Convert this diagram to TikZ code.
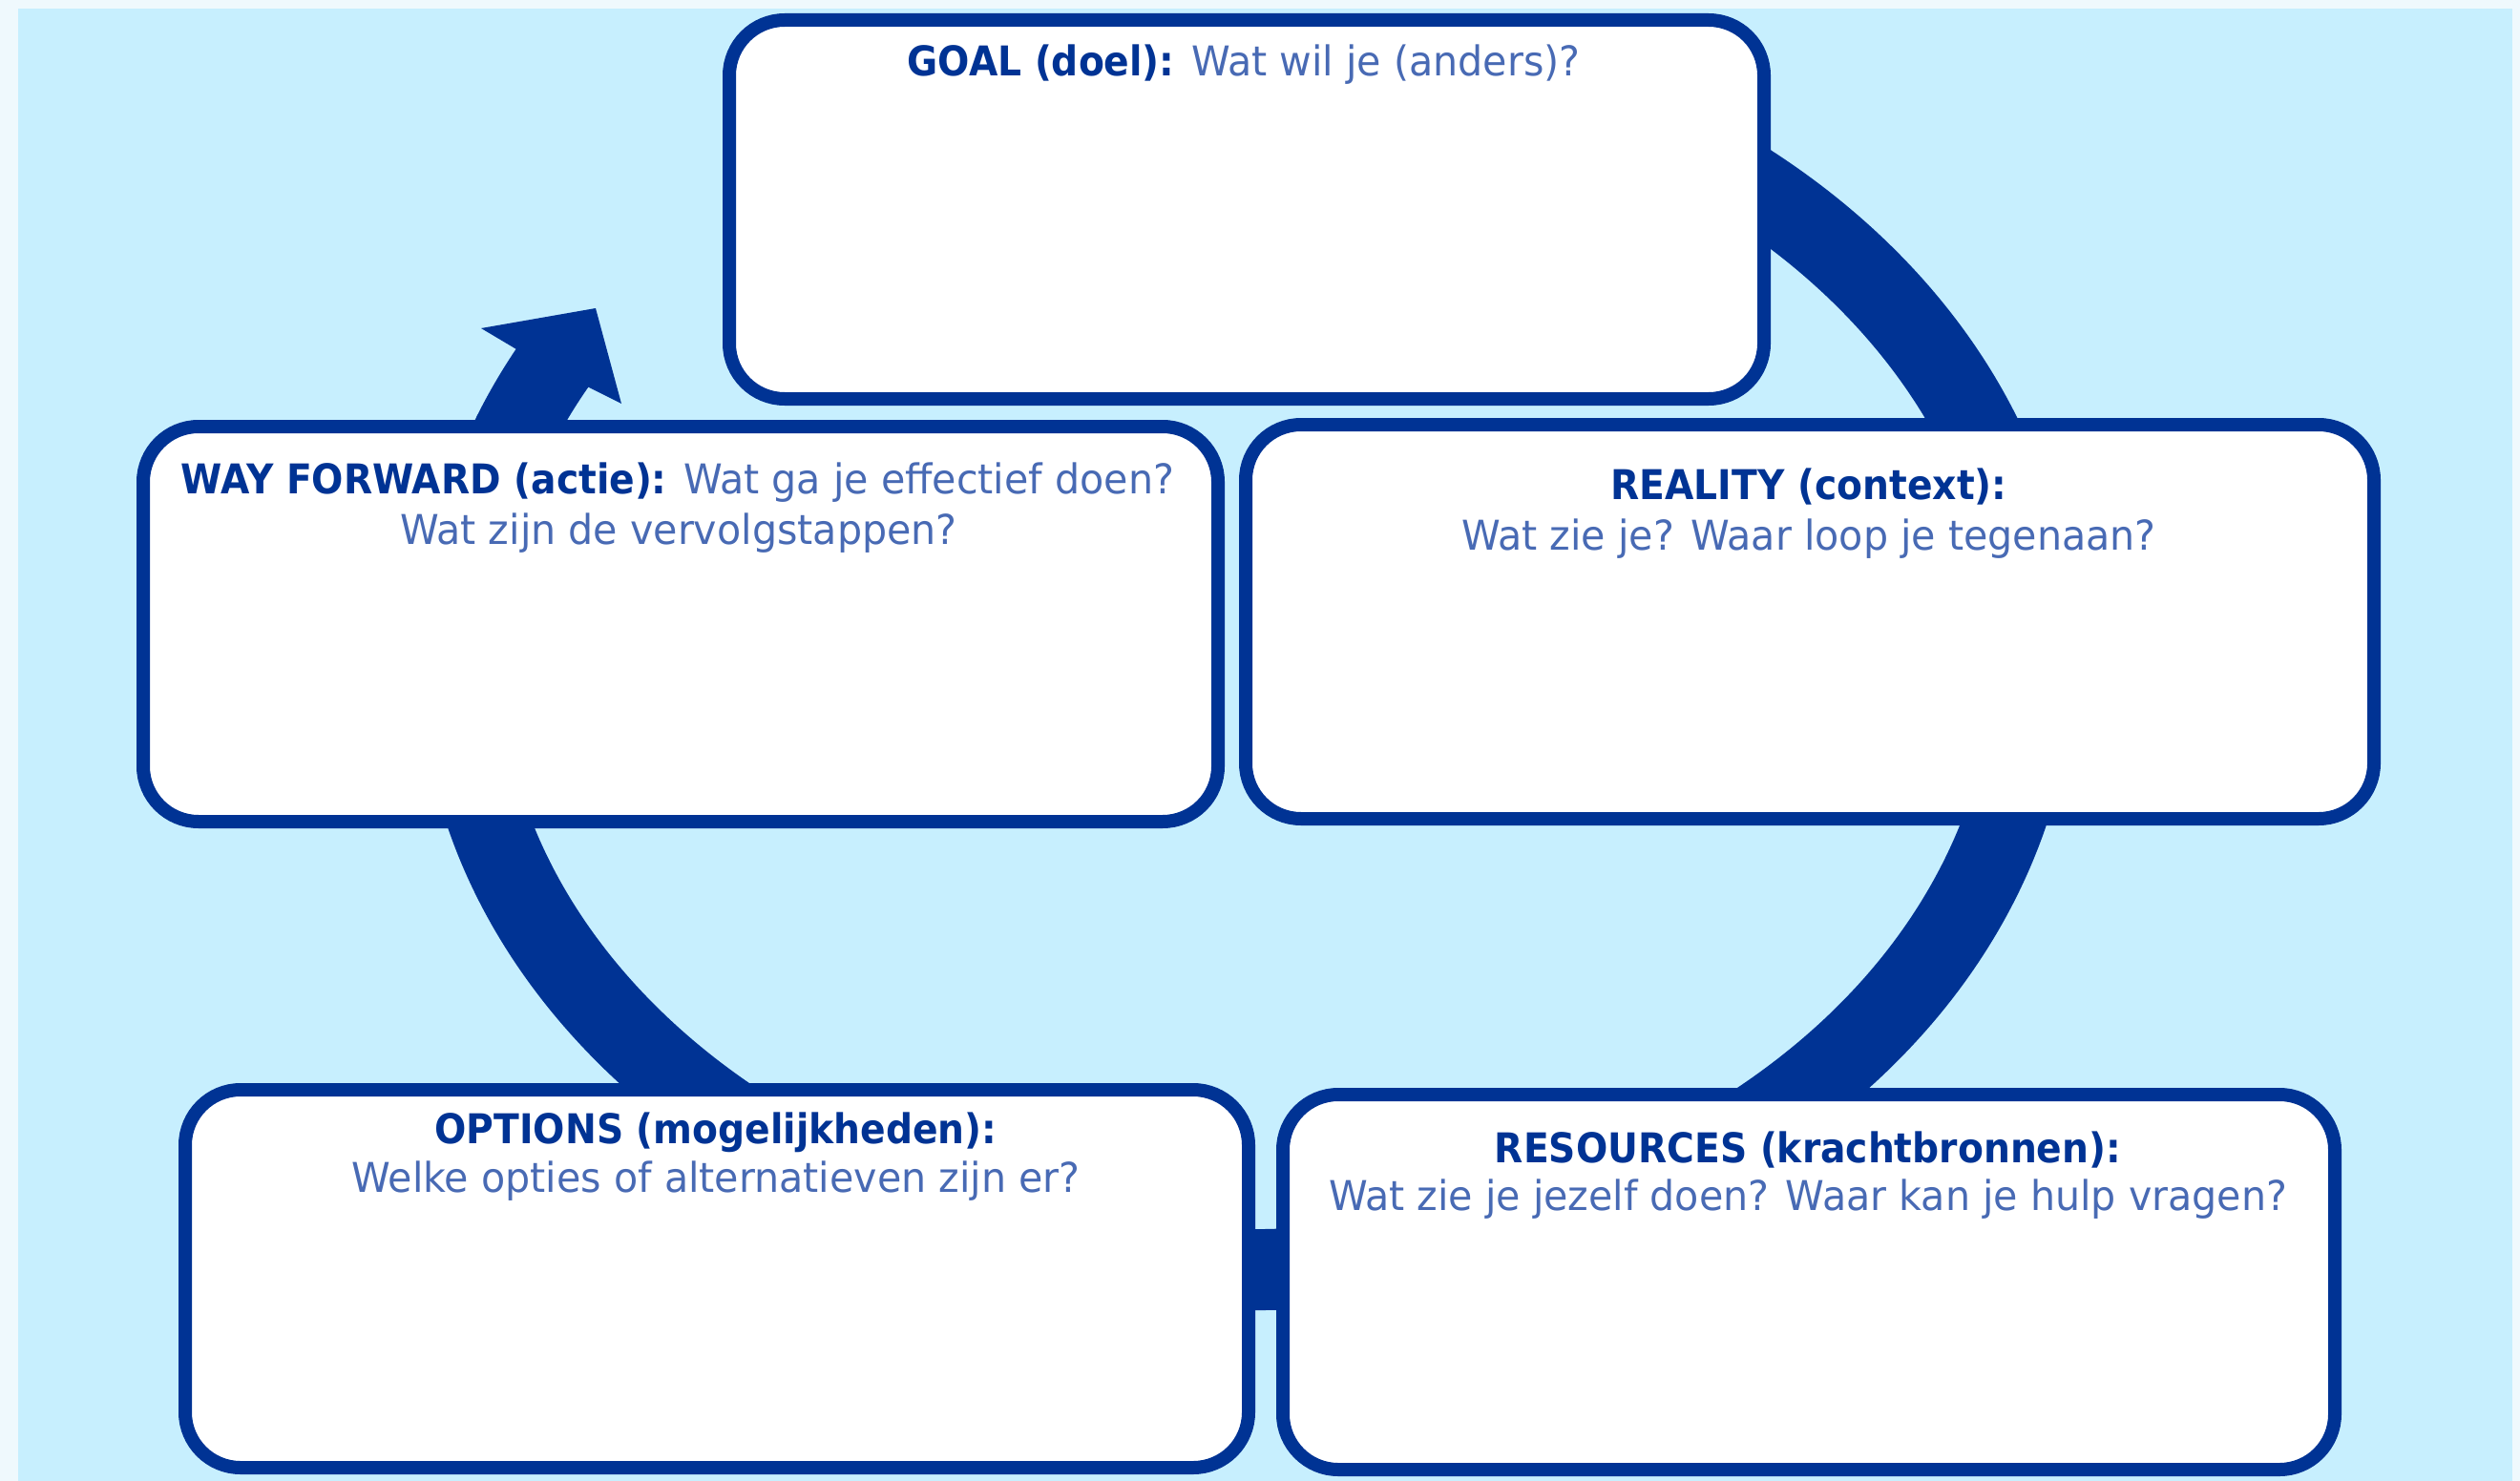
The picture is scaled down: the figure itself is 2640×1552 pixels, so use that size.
\documentclass[tikz,border=0pt]{standalone}
\usepackage{fontspec}
\setmainfont{DejaVu Sans}[FakeStretch=0.958, BoldFeatures={FakeStretch=0.912}]
\definecolor{dk}{RGB}{0,51,148}
\definecolor{lt}{RGB}{72,106,180}
\definecolor{bgl}{RGB}{199,239,254}
\definecolor{bgo}{RGB}{239,249,253}
\begin{document}
\begin{tikzpicture}[x=1pt,y=-1pt,
  box/.style={draw=dk, fill=white, line width=14pt, rounded corners=58pt,
    inner sep=0pt, outer sep=0pt},
  ring/.style={draw=dk, line width=85pt, line cap=butt},
  txt/.style={anchor=base, inner sep=0pt, outer sep=0pt,
    font=\fontsize{43}{52}\selectfont}]
\useasboundingbox (0,0) rectangle (2640,1552);
\fill[bgo] (0,0) rectangle (2640,1552);
\fill[bgl] (19,9) rectangle (2632,1552);
% cycle ring
\coordinate (ringc) at (1306,688);
\draw[ring] ([shift={(-70:824.5 and 642.5)}]ringc)
  arc[start angle=-70, end angle=209, x radius=824.5, y radius=642.5];
\fill[dk] (541,366) -- (504,344) -- (624,323) -- (651,423) -- (613,404) -- cycle;
% boxes
\node[box, minimum width=1084pt, minimum height=397pt] (goal) at (1306,219.5) {};
\node[box, minimum width=1126pt, minimum height=414pt] (way) at (713,654) {};
\node[box, minimum width=1182pt, minimum height=413pt] (real) at (1896,651.5) {};
\node[box, minimum width=1114pt, minimum height=396pt] (opt) at (751,1340) {};
\node[box, minimum width=1102pt, minimum height=393pt] (res) at (1895,1343.5) {};
% texts
\node[txt] (goalt) at (1303,80) {\textcolor{dk}{\bfseries GOAL (doel):} \textcolor{lt}{Wat wil je (anders)?}};
\node[txt] (wayt1) at (710,517) {\textcolor{dk}{\bfseries WAY FORWARD (actie):} \textcolor{lt}{Wat ga je effectief doen?}};
\node[txt] (wayt2) at (711,570) {\textcolor{lt}{Wat zijn de vervolgstappen?}};
\node[txt] (realt1) at (1895,523) {\textcolor{dk}{\bfseries REALITY (context):}};
\node[txt] (realt2) at (1895,576) {\textcolor{lt}{Wat zie je? Waar loop je tegenaan?}};
\node[txt] (optt1) at (750,1198) {\textcolor{dk}{\bfseries OPTIONS (mogelijkheden):}};
\node[txt] (optt2) at (750,1249) {\textcolor{lt}{Welke opties of alternatieven zijn er?}};
\node[txt] (rest1) at (1894,1218) {\textcolor{dk}{\bfseries RESOURCES (krachtbronnen):}};
\node[txt] (rest2) at (1894,1268) {\textcolor{lt}{Wat zie je jezelf doen? Waar kan je hulp vragen?}};
\end{tikzpicture}
\end{document}
